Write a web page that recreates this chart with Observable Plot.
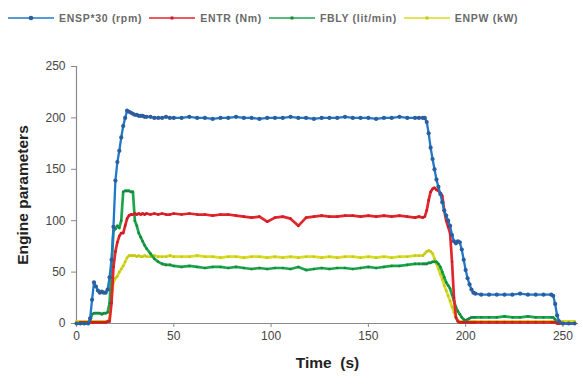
<!DOCTYPE html>
<html><head><meta charset="utf-8">
<script src="https://cdn.jsdelivr.net/npm/d3@7"></script>
<script src="https://cdn.jsdelivr.net/npm/@observablehq/plot@0.6"></script>
<style>
body{margin:0;background:#fff;font-family:"Liberation Sans",Arial,sans-serif;width:583px;height:385px;overflow:hidden;}
#legend{height:35px;display:flex;align-items:center;padding-left:8px;font-size:10.5px;font-weight:bold;color:#6a6a6a;letter-spacing:0.7px;white-space:nowrap;}
#legend .item{display:flex;align-items:center;margin-right:7px;}
#legend svg{margin-right:5px;}
</style></head><body>
<div id="legend"></div><div id="chart"></div>
<script>
const seriesNames = ["ENSP*30 (rpm)", "ENTR (Nm)", "FBLY (lit/min)", "ENPW (kW)"];
const seriesColors = ["#1f78c8", "#e3262d", "#1ca64c", "#d8dc22"];
const markerColors = ["#2c5d9c", "#c81e26", "#158a3e", "#c4c81a"];
const xTicks = [0, 50, 100, 150, 200, 250];
const yTicks = [0, 50, 100, 150, 200, 250];

const time = [0,2,4,6,7,8,9,10,11,12,13,14,15,16,17,18,19,20,21,22,23,24,25,26,27,28,29,30,31,32,33,34,35,36,38,40,42,44,46,48,50,
54,58,62,66,70,74,78,82,86,90,94,98,102,106,110,114,118,122,126,130,134,138,142,146,150,154,158,162,166,170,174,
176,178,179,180,181,182,183,184,185,186,187,188,189,190,191,192,193,194,195,196,197,198,199,200,201,202,203,204,205,
208,212,216,220,224,228,232,236,240,244,245,246,247,248,250,253,256];

const ensp = [0,0,0,0,5,23,40,36,32,30,31,30,30,33,45,62,94,139,157,168,181,192,200,207,206,205,204,203,203,202,202,202,201,201,201,200,200,200,201,200,200,
200,201,200,200,199,200,200,201,200,200,199,200,200,200,201,200,200,199,200,200,200,201,200,200,200,199,200,200,201,200,200,
200,200,200,196,185,171,160,150,140,133,126,118,110,105,100,95,86,80,78,80,79,72,62,52,44,38,33,30,29,
28,28,28,28,28,29,28,28,28,28,27,19,8,2,0,0,0];

const entr = [0,1,1,1,1,1,1,1,1,1,1,1,1,2,2,20,55,70,79,85,88,88,95,102,105,106,106,107,106,107,106,107,106,107,106,107,106,107,106,106,107,
106,107,106,106,105,106,106,105,104,103,104,99,103,104,102,95,103,104,105,104,104,105,105,104,105,104,105,104,105,104,103,
104,103,104,110,120,128,131,132,130,129,127,124,110,100,94,88,60,25,6,2,1,1,1,1,1,1,1,1,1,
1,1,1,1,1,1,1,1,1,1,1,1,0,0,0,0,0];

const fbly = [0,0,0,1,3,9,10,10,10,10,9,10,10,11,20,55,90,92,95,93,100,128,129,129,129,128,128,100,95,88,84,80,76,73,68,63,60,58,57,57,56,
55,56,55,54,55,55,54,55,54,53,54,53,54,54,53,55,52,53,54,53,54,54,53,54,55,54,55,56,56,57,58,
58,58,58,58,59,59,60,60,60,58,55,50,45,40,37,34,28,22,16,12,9,6,4,3,4,5,6,6,6,
6,6,6,7,6,6,7,6,6,6,6,4,1,0,0,0,0];

const enpw = [2,2,2,2,2,2,2,2,2,2,2,2,2,2,5,25,40,44,46,50,53,56,60,64,66,66,66,66,65,66,65,65,66,65,65,66,65,65,65,66,65,
65,65,66,65,65,64,65,65,64,65,65,64,65,64,65,64,65,65,64,65,64,65,65,64,65,64,65,64,65,65,66,
66,66,68,70,71,70,68,63,58,53,48,43,37,32,27,22,16,11,6,3,2,2,2,2,2,2,2,2,2,
2,2,2,2,2,2,2,2,2,2,2,2,2,2,2,2,2];

const allValues = [ensp, entr, fbly, enpw];
const rows = [];
allValues.forEach((vals, i) => vals.forEach((v, j) => rows.push({t: time[j], v, s: seriesNames[i]})));

// legend
const legend = document.getElementById("legend");
seriesNames.forEach((name, i) => {
  const item = document.createElement("span");
  item.className = "item";
  const mk = i === 0 ? `<circle cx="23" cy="5" r="2.3" fill="${markerColors[i]}"/>` :
    `<rect x="21.5" y="3.5" width="3" height="3" fill="${markerColors[i]}"/>`;
  item.innerHTML = `<svg width="46" height="10"><line x1="0" y1="5" x2="46" y2="5" stroke="${seriesColors[i]}" stroke-width="1.5"/>${mk}</svg>${name}`;
  legend.appendChild(item);
});

const order = [3, 2, 1, 0];
const marks = [];
order.forEach(i => {
  const data = rows.filter(d => d.s === seriesNames[i]);
  marks.push(Plot.line(data, {x: "t", y: "v", stroke: seriesColors[i], strokeWidth: i === 0 ? 2.3 : 2.7}));
  marks.push(Plot.dot(data, {x: "t", y: "v", r: i === 0 ? 2.1 : 1.3, fill: markerColors[i], stroke: "none"}));
});

const chart = Plot.plot({
  width: 583, height: 350,
  marginTop: 31, marginBottom: 62, marginLeft: 76, marginRight: 5,
  x: {domain: [0, 258]},
  y: {domain: [0, 250]},
  style: {fontFamily: "Liberation Sans, Arial, sans-serif", fontSize: "12px", color: "#444", background: "#fff"},
  marks: [
    Plot.axisX({ticks: xTicks, tickSize: 4, tickPadding: 4, stroke: "#888", label: "Time  (s)", labelAnchor: "center", labelArrow: "none", labelOffset: 44}),
    Plot.axisY({ticks: yTicks, tickSize: 5, tickPadding: 6, stroke: "#888", label: "Engine parameters", labelAnchor: "center", labelArrow: "none", labelOffset: 60}),
    Plot.ruleY([0], {stroke: "#8a8a8a", strokeWidth: 1.2}),
    Plot.ruleX([0], {stroke: "#8a8a8a", strokeWidth: 1.2}),
    ...marks
  ]
});
document.getElementById("chart").appendChild(chart);
d3.select(chart).selectAll('[aria-label="x-axis label"] text, [aria-label="y-axis label"] text')
  .style("font-size", "15.5px").style("font-weight", "bold").style("fill", "#222").style("white-space", "pre");
</script>
</body></html>
